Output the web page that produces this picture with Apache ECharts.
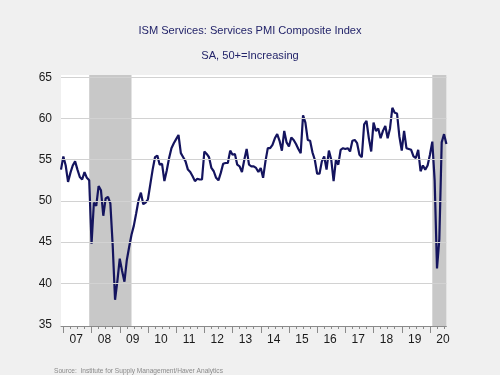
<!DOCTYPE html>
<html>
<head>
<meta charset="utf-8">
<script src="https://cdn.jsdelivr.net/npm/echarts@6/dist/echarts.min.js"></script>
<style>
html,body{margin:0;padding:0;background:#f0f0f0;}
#chart{width:500px;height:375px;}
</style>
</head>
<body>
<div id="chart"></div>
<script>
// ISM Services PMI composite, monthly, SA
const startMonth = '2006-12';
const v2006 = [53.8]; // Dec 2006
const v2007 = [55.4,54.3,52.3,53.4,54.3,54.8,53.8,52.9,52.6,53.5,52.8,52.5];
const v2008 = [44.8,49.8,49.4,51.8,51.3,48.2,50.3,50.5,49.7,44.6,38.0,40.3];
const v2009 = [43.0,41.5,40.2,42.8,44.4,45.9,47.0,48.5,50.1,51.0,49.6,49.8];
const v2010 = [50.2,52.0,53.8,55.3,55.5,54.4,54.5,52.4,53.7,55.2,56.4,57.0];
const v2011 = [57.5,58.0,55.8,55.3,54.8,53.8,53.5,53.0,52.4,52.7,52.6,52.6];
const v2012 = [56.0,55.7,55.3,54.0,53.6,52.8,52.5,53.4,54.5,54.6,54.6,56.1];
const v2013 = [55.6,55.7,54.4,54.2,53.5,55.0,56.3,54.4,54.2,54.2,54.0,53.5];
const v2014 = [54.0,52.8,54.8,56.4,56.4,56.8,57.6,58.1,57.3,56.1,58.5,57.1];
const v2015 = [56.6,57.7,57.4,56.9,56.3,55.8,60.4,59.5,57.4,57.3,55.9,55.0];
const v2016 = [53.3,53.3,54.8,55.4,53.8,56.1,55.0,52.4,55.0,54.4,56.2,56.4];
const v2017 = [56.3,56.4,56.0,57.3,57.4,57.0,55.6,55.3,59.3,59.7,57.6,56.0];
const v2018 = [59.5,58.5,58.8,57.6,58.5,59.1,57.6,58.8,61.3,60.7,60.6,57.8];
const v2019 = [56.1,58.5,56.4,56.3,56.2,55.4,55.2,56.2,53.6,54.3,53.8,54.3];
const v2020 = [55.6,57.2,52.5,41.8,45.4,57.1,58.1,56.9];

const yearLabels = ['07','08','09','10','11','12','13','14','15','16','17','18','19','20'];
const yTickValues = [35,40,45,50,55,60,65];
const recessions = [['2007-12','2009-06'],['2020-02','2020-08']];

const baseYear = 2007;
function monthIndex(s){ const p = s.split('-'); return (+p[0]-baseYear)*12 + (+p[1]-1); }

const allValues = [].concat(v2006,v2007,v2008,v2009,v2010,v2011,v2012,v2013,v2014,v2015,v2016,v2017,v2018,v2019,v2020);
const m0 = monthIndex(startMonth);
const points = allValues.map((v,i)=>[m0+i, v]);
const xMin = m0, xMax = m0 + allValues.length - 1;

const yearStarts = yearLabels.map((_,i)=>i*12);
const yearMids = yearLabels.map((_,i)=>i*12+5.5);
const quarterTicks = [];
yearLabels.forEach((_,i)=>{ [3,6,9].forEach(q=>{ if(i*12+q<=xMax) quarterTicks.push(i*12+q); }); });

// y range padded so 35/65 sit just inside the frame as in the reference
const yMin = 34.82, yMax = 65.28;
const font = "'Liberation Sans', Arial, sans-serif";

const chart = echarts.init(document.getElementById('chart'), null, {renderer:'canvas'});
chart.setOption({
  backgroundColor:'#f0f0f0',
  animation:false,
  textStyle:{fontFamily:font},
  title:[
    {text:'ISM Services: Services PMI Composite Index', left:'center', top:25, padding:0,
     textStyle:{fontSize:11.1, fontWeight:'normal', color:'#23246a', fontFamily:font}},
    {text:'SA, 50+=Increasing', left:'center', top:50, padding:0,
     textStyle:{fontSize:11.1, fontWeight:'normal', color:'#23246a', fontFamily:font}}
  ],
  grid:{left:61, right:53.6, top:75, bottom:49, show:true, backgroundColor:'#ffffff', borderWidth:0},
  xAxis:[
    {type:'value', min:xMin, max:xMax, position:'bottom',
     axisLine:{show:true, onZero:false, lineStyle:{color:'#8a8a8a', width:1}},
     axisTick:{show:true, customValues:yearStarts, length:7, lineStyle:{color:'#8a8a8a'}},
     axisLabel:{show:true, customValues:yearMids, margin:8, fontSize:12, color:'#1a1a1a', fontFamily:font,
       formatter:(v)=>yearLabels[Math.round((v-5.5)/12)]},
     splitLine:{show:false}, minorTick:{show:false}},
    {type:'value', min:xMin, max:xMax, position:'bottom', gridIndex:0,
     axisLine:{show:false, onZero:false},
     axisTick:{show:true, customValues:quarterTicks, length:3, lineStyle:{color:'#8a8a8a'}},
     axisLabel:{show:false}, splitLine:{show:false}}
  ],
  yAxis:{type:'value', min:yMin, max:yMax,
    axisLine:{show:false}, axisTick:{show:false}, splitLine:{show:false},
    axisLabel:{show:true, customValues:yTickValues, margin:9, fontSize:12, color:'#1a1a1a', fontFamily:font}},
  series:[
    {type:'line', name:'grid', data:points, xAxisIndex:0, showSymbol:false, silent:true, z:1,
     lineStyle:{opacity:0},
     markLine:{silent:true, symbol:['none','none'], label:{show:false}, animation:false,
       lineStyle:{color:'#d2d2d2', width:1, type:'solid'},
       data: yTickValues.filter(v=>v>35).map(v=>({yAxis:v}))}},
    {type:'line', name:'recession', data:points, xAxisIndex:0, showSymbol:false, silent:true, z:2,
     lineStyle:{opacity:0},
     markArea:{silent:true, itemStyle:{color:'#c8c8c8'},
       data: recessions.map(r=>[{xAxis:monthIndex(r[0])},{xAxis:Math.min(monthIndex(r[1]),xMax)}])}},
    {type:'line', name:'ISM Services PMI', data:points, xAxisIndex:0, showSymbol:false, z:3,
     lineStyle:{color:'#14145e', width:2.2}, itemStyle:{color:'#14145e'}}
  ],
  graphic:[
    {type:'text', left:54, top:368, silent:true,
     style:{text:'Source:  Institute for Supply Management/Haver Analytics', fontSize:6.6, fill:'#8a8a8a', fontFamily:font}}
  ]
});
</script>
</body>
</html>
